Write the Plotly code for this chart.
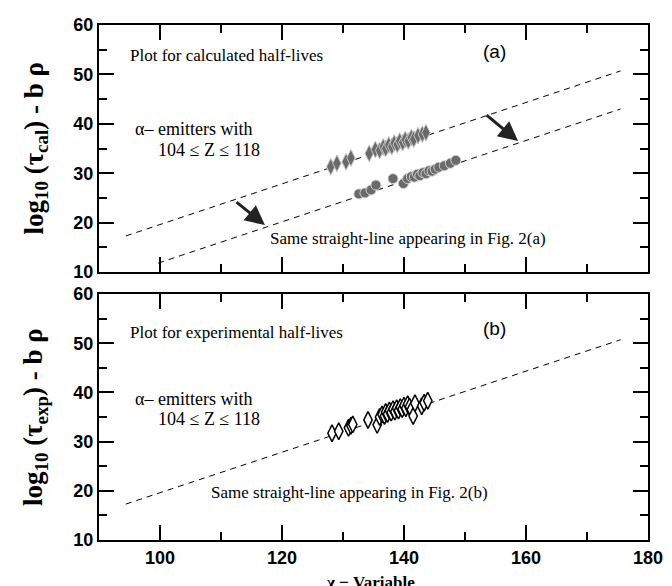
import plotly.graph_objects as go

# ---------------- data ----------------
# panel (a): calculated half-lives
cal_diamond_x = [128.0, 129.0, 130.5, 131.3, 134.3, 135.3, 136.0, 136.6, 137.0, 137.5, 138.0,
                 138.4, 138.9, 139.3, 139.8, 140.2, 140.7, 141.2, 141.6, 142.3, 143.0, 143.6]
cal_diamond_y = [31.3, 32.0, 32.3, 33.1, 34.0, 34.8, 34.6, 35.3, 35.0, 35.7, 35.4,
                 36.1, 35.8, 36.5, 36.2, 36.8, 36.5, 37.2, 36.9, 37.6, 37.9, 38.2]
cal_circle_x = [132.6, 133.6, 134.6, 135.4, 138.2, 139.9, 140.6, 141.2, 141.7, 142.2, 142.6,
                143.1, 143.6, 144.1, 144.6, 145.1, 145.7, 146.6, 147.6, 148.5]
cal_circle_y = [25.8, 26.0, 26.6, 27.6, 28.9, 27.9, 28.9, 29.3, 29.2, 29.8, 29.5,
                30.1, 29.9, 30.5, 30.4, 30.8, 31.2, 31.5, 32.0, 32.6]
cal_line1_x = [94.4, 175.5]
cal_line1_y = [17.3, 50.7]
cal_line2_x = [99.7, 175.5]
cal_line2_y = [11.8, 43.0]

# panel (b): experimental half-lives
exp_diamond_x = [128.2, 129.3, 130.9, 131.3, 131.6, 134.1, 135.6, 136.0, 136.4, 136.8, 137.0,
                 137.3, 137.6, 137.9, 138.2, 138.5, 138.8, 139.1, 139.4, 139.7, 140.0, 140.3,
                 140.6, 140.9, 141.2, 141.5, 141.8, 142.9, 143.3, 143.9]
exp_diamond_y = [31.7, 32.1, 32.8, 33.2, 33.5, 34.4, 33.4, 35.0, 35.5, 35.2, 36.0,
                 35.6, 36.3, 35.9, 36.6, 36.1, 36.8, 36.3, 37.0, 36.6, 37.3, 36.8,
                 37.6, 37.1, 36.5, 35.2, 37.8, 37.2, 37.9, 38.3]
exp_line_x = [94.4, 175.5]
exp_line_y = [17.3, 50.7]

x_ticks = [100, 120, 140, 160, 180]
y_ticks = [10, 20, 30, 40, 50, 60]

# ---------------- figure ----------------
fig = go.Figure()
gray = "#6a6a6a"
dash = "6px,5px"

# top panel (x2,y2)
fig.add_trace(go.Scatter(x=cal_line1_x, y=cal_line1_y, mode="lines", xaxis="x2", yaxis="y2",
                         line=dict(color="black", width=1, dash=dash)))
fig.add_trace(go.Scatter(x=cal_line2_x, y=cal_line2_y, mode="lines", xaxis="x2", yaxis="y2",
                         line=dict(color="black", width=1, dash=dash)))
fig.add_trace(go.Scatter(x=cal_diamond_x, y=cal_diamond_y, mode="markers", xaxis="x2", yaxis="y2",
                         marker=dict(symbol="diamond-tall", size=12, color=gray,
                                     line=dict(color="#c4c4c4", width=1))))
fig.add_trace(go.Scatter(x=cal_circle_x, y=cal_circle_y, mode="markers", xaxis="x2", yaxis="y2",
                         marker=dict(symbol="circle", size=10, color=gray,
                                     line=dict(color="#d0d0d0", width=1))))

# bottom panel (x,y)
fig.add_trace(go.Scatter(x=exp_line_x, y=exp_line_y, mode="lines",
                         line=dict(color="black", width=1, dash=dash)))
fig.add_trace(go.Scatter(x=exp_diamond_x, y=exp_diamond_y, mode="markers",
                         marker=dict(symbol="diamond-tall", size=12, color="white",
                                     line=dict(color="black", width=1.5))))

tickfont = dict(family="Liberation Sans", size=18, color="black", weight="bold")
axis_common = dict(range=[90, 180], showgrid=False, zeroline=False, showline=True,
                   linecolor="black", linewidth=2, mirror="ticks", ticks="inside",
                   ticklen=15, tickwidth=2, tickcolor="black", automargin=False,
                   minor=dict(ticks="inside", ticklen=8, tickwidth=2, tickcolor="black", dtick=10),
                   tickvals=x_ticks, tickfont=tickfont)
yaxis_common = dict(range=[10, 60], showgrid=False, zeroline=False, showline=True,
                    linecolor="black", linewidth=2, mirror="ticks", ticks="inside",
                    ticklen=15, tickwidth=2, tickcolor="black", automargin=False,
                    minor=dict(ticks="inside", ticklen=8, tickwidth=2, tickcolor="black", dtick=5),
                    tickvals=y_ticks, tickfont=tickfont)

top_dom = [(532 - 264) / 515, 1.0]
bot_dom = [0.0, (532 - 286) / 515]

fig.update_layout(
    width=672, height=586,
    margin=dict(l=91, r=32, t=17, b=54, autoexpand=False),
    paper_bgcolor="white", plot_bgcolor="white",
    showlegend=False,
    xaxis=dict(**axis_common, anchor="y", domain=[0, 1]),
    yaxis=dict(**yaxis_common, anchor="x", domain=bot_dom),
    xaxis2=dict(**axis_common, anchor="y2", domain=[0, 1], showticklabels=False),
    yaxis2=dict(**yaxis_common, anchor="x2", domain=top_dom),
)

serif = "Liberation Serif"
txt = dict(family=serif, size=17, color="black")
ann = []

def add_text(text, x, y, xr, yr, font=txt, xanchor="left"):
    ann.append(dict(text=text, x=x, y=y, xref=xr, yref=yr, showarrow=False,
                    xanchor=xanchor, yanchor="middle", font=font))

labfont = dict(family="Liberation Sans", size=19, color="black")

# panel (a) texts
add_text("Plot for calculated half-lives", 94.8, 53.9, "x2", "y2")
add_text("(a)", 154.9, 54.6, "x2", "y2", font=labfont, xanchor="center")
add_text("α– emitters with", 95.6, 38.9, "x2", "y2", font=dict(family=serif, size=18, color="black"))
add_text("104 ≤ Z ≤ 118", 99.3, 34.6, "x2", "y2", font=dict(family=serif, size=18, color="black"))
add_text("Same straight-line appearing in Fig. 2(a)", 117.7, 16.7, "x2", "y2")

# panel (b) texts
add_text("Plot for experimental half-lives", 94.8, 52.1, "x", "y")
add_text("(b)", 154.9, 52.9, "x", "y", font=labfont, xanchor="center")
add_text("α– emitters with", 95.6, 38.6, "x", "y", font=dict(family=serif, size=18, color="black"))
add_text("104 ≤ Z ≤ 118", 99.3, 34.6, "x", "y", font=dict(family=serif, size=18, color="black"))
add_text("Same straight-line appearing in Fig. 2(b)", 108.0, 19.6, "x", "y")

# arrows (panel a)
for (hx, hy, tx, ty) in [(117.2, 19.5, 112.3, 24.4), (158.7, 36.5, 153.3, 42.0)]:
    ann.append(dict(text="", x=hx, y=hy, ax=tx, ay=ty, xref="x2", yref="y2",
                    axref="x2", ayref="y2", showarrow=True, arrowhead=2,
                    arrowsize=1.3, arrowwidth=3, arrowcolor="#222222"))

# axis titles
titlefont = dict(family=serif, size=27, color="black", weight="bold")
ann.append(dict(text="log<sub>10</sub> (τ<sub>cal</sub>) - b ρ", x=(27 - 91) / 549,
                y=(top_dom[0] + top_dom[1]) / 2, xref="paper", yref="paper",
                textangle=-90, showarrow=False, xanchor="center", yanchor="middle", font=titlefont))
ann.append(dict(text="log<sub>10</sub> (τ<sub>exp</sub>) - b ρ", x=(27 - 91) / 549,
                y=(bot_dom[0] + bot_dom[1]) / 2, xref="paper", yref="paper",
                textangle=-90, showarrow=False, xanchor="center", yanchor="middle", font=titlefont))
ann.append(dict(text="χ − Variable", x=(362 - 91) / 549, y=(532 - 585) / 515, xref="paper", yref="paper",
                showarrow=False, xanchor="center", yanchor="bottom", borderpad=0,
                font=dict(family=serif, size=17, color="black", weight="bold")))

fig.update_layout(annotations=ann)
fig.write_html("out.html")
